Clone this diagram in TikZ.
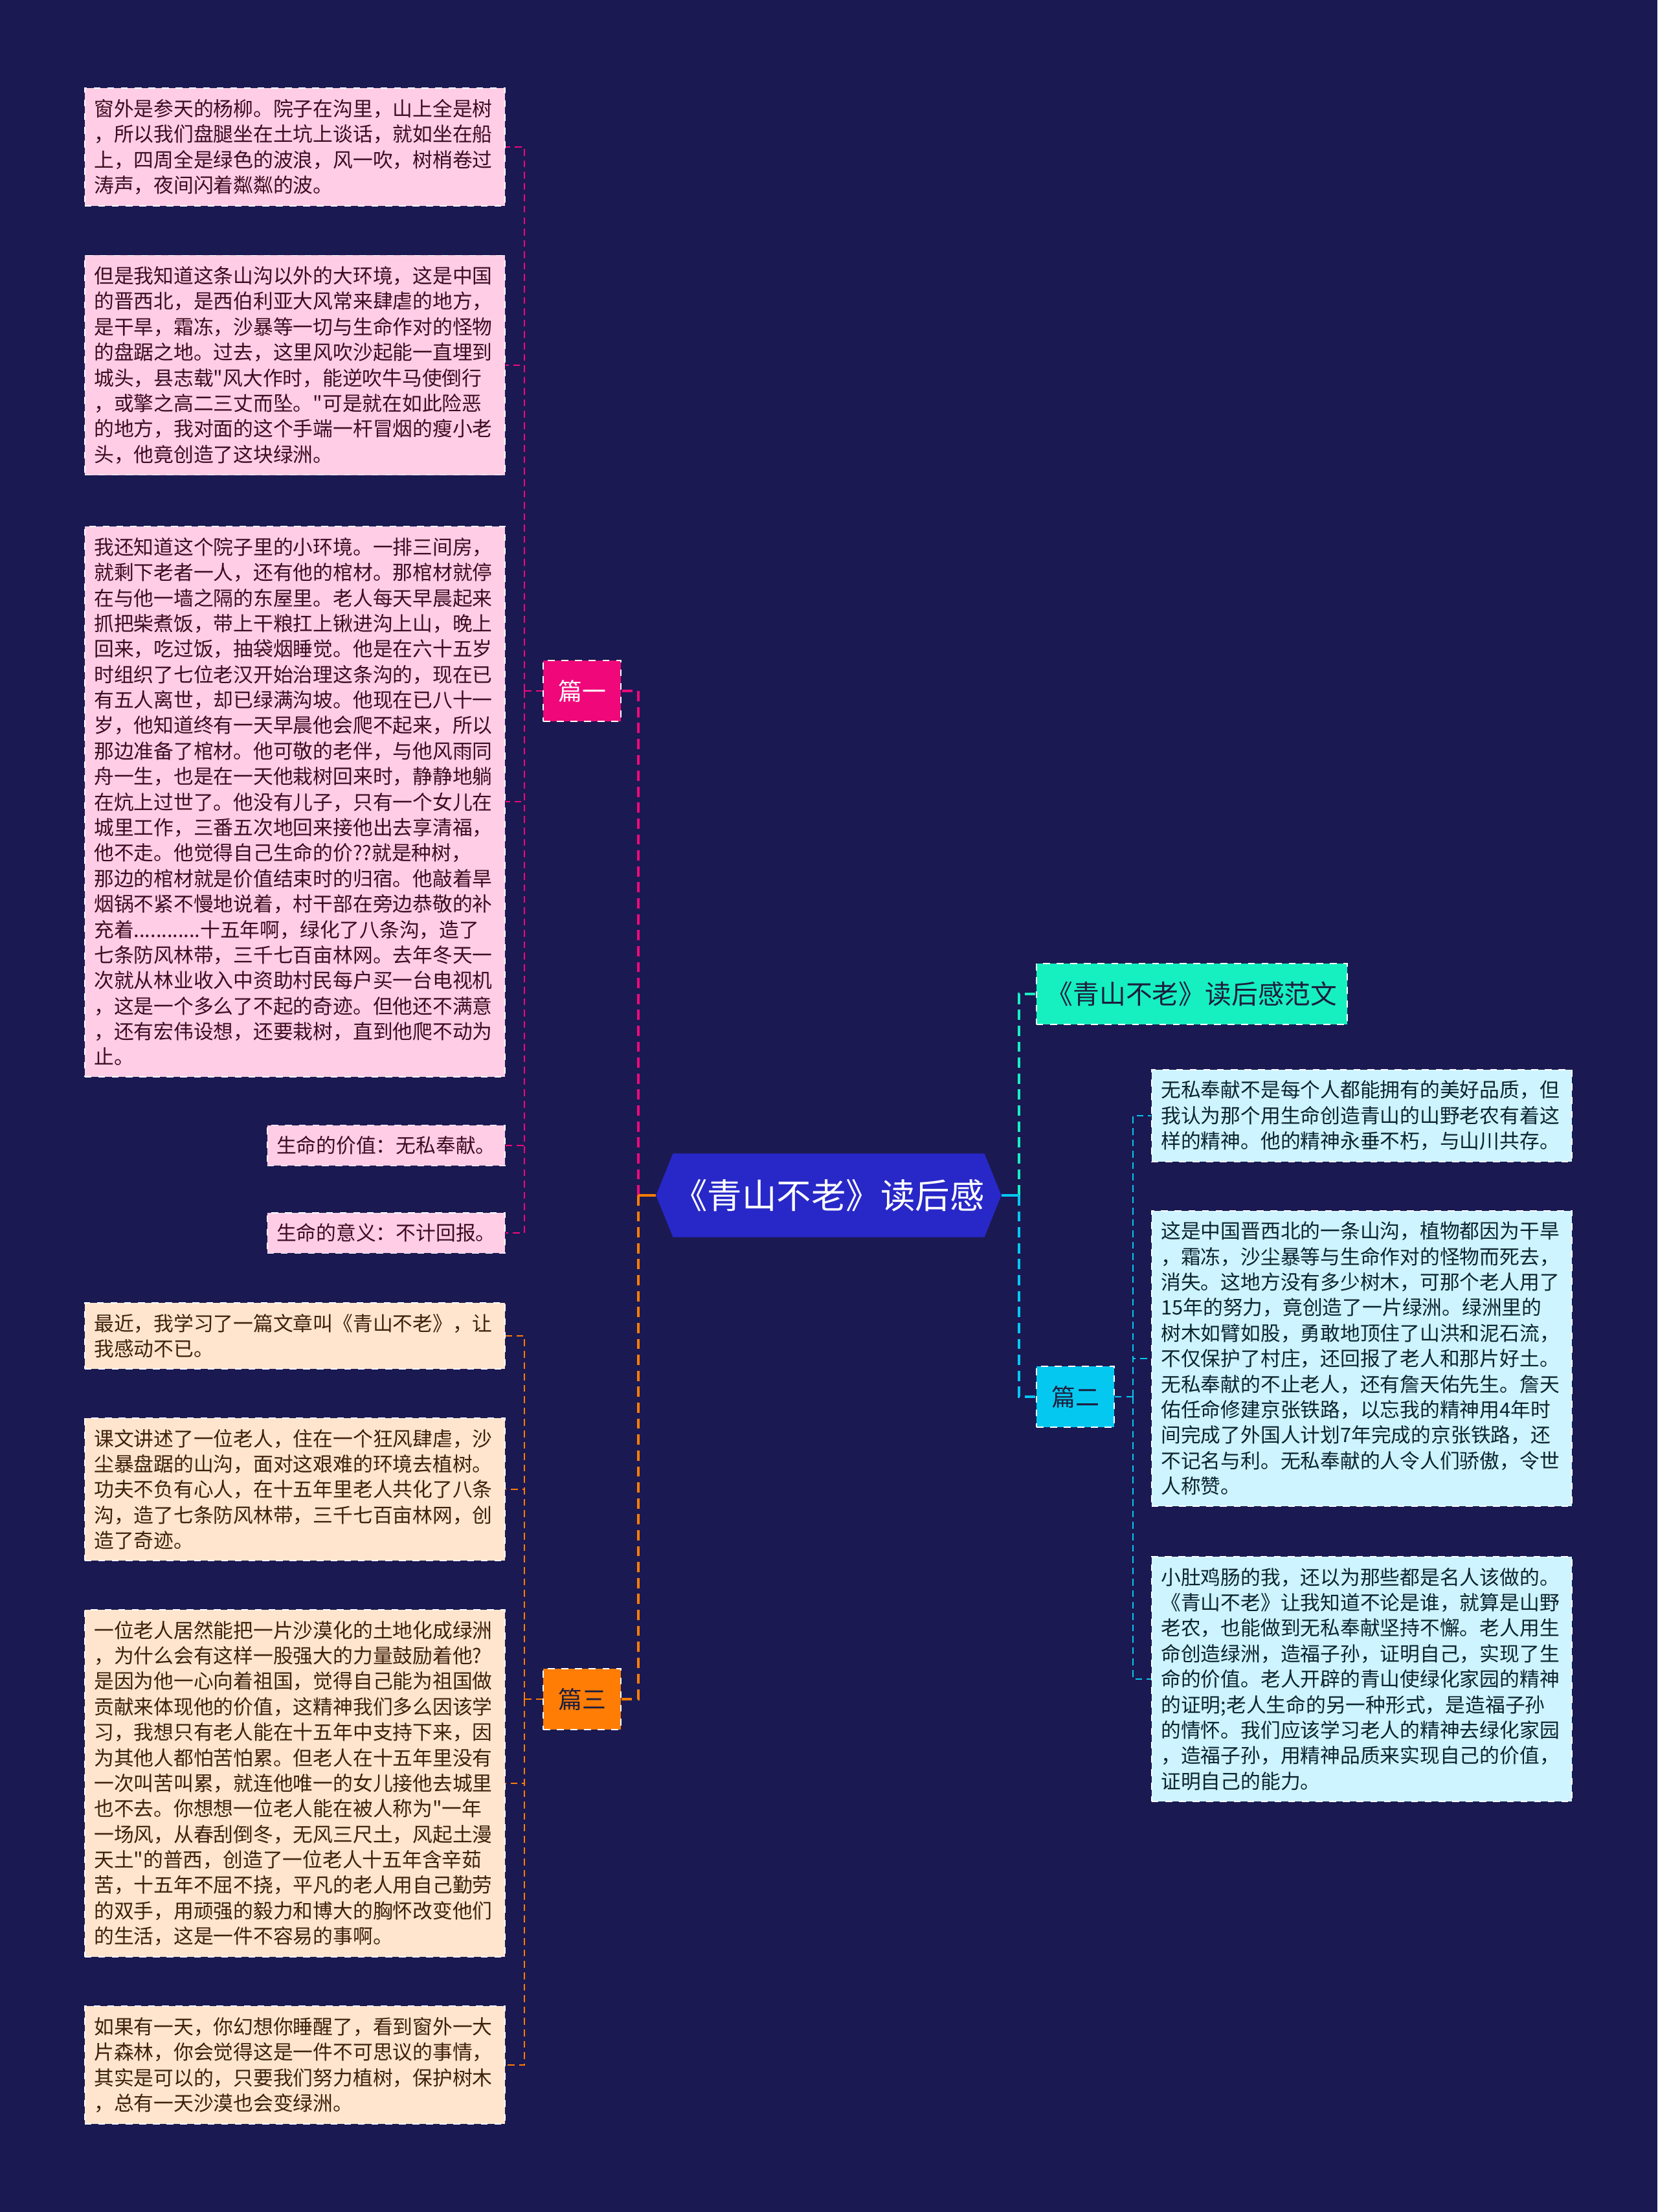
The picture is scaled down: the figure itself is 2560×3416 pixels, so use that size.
\documentclass[tikz,border=0pt]{standalone}
\usepackage{fontspec}
\newfontfamily\cjk{Noto Sans CJK SC}
\usetikzlibrary{shapes.symbols}

\definecolor{bgnavy}{RGB}{27,25,82}
\definecolor{rootblue}{RGB}{40,40,200}
\definecolor{pinkc}{RGB}{240,8,122}
\definecolor{orangec}{RGB}{255,125,5}
\definecolor{tealc}{RGB}{22,240,192}
\definecolor{cyanc}{RGB}{5,200,240}
\definecolor{pinkbox}{RGB}{255,205,230}
\definecolor{peachbox}{RGB}{255,229,205}
\definecolor{icebox}{RGB}{205,244,255}
\definecolor{pinkink}{RGB}{60,12,32}
\definecolor{peachink}{RGB}{62,32,12}
\definecolor{iceink}{RGB}{12,36,46}
\definecolor{topicink}{RGB}{28,30,62}

\begin{document}
\begin{tikzpicture}[
    x=0.01cm, y=-0.01cm,
    root/.style={signal, signal to=west and east, signal pointer angle=136, fill=rootblue, text=white, font=\cjk\fontsize{15.2}{18}\selectfont, minimum width=5.12cm, minimum height=1.29cm, inner sep=0pt},
    topic/.style={rectangle, draw=white!70, dashed, line width=0.5pt, minimum width=1.2cm, minimum height=0.94cm, inner xsep=0.2cm, font=\cjk\fontsize{10.5}{12}\selectfont},
    leaf/.style={rectangle, draw=white!75, dashed, line width=0.5pt, align=left, inner xsep=0.145cm, inner ysep=0.17cm, font=\cjk\fontsize{8.75}{11.2}\selectfont},
    wide/.style={text width=6.2cm},
    link/.style={line width=1.1pt, dash pattern=on 4.5pt off 2.5pt},
    twig/.style={line width=0.7pt, dash pattern=on 3pt off 2pt},
    stub/.style={line width=1.2pt}
  ]
    % Background
    \fill[bgnavy] (0,0) rectangle (2560,3416);
    \useasboundingbox (0,0) rectangle (2560,3416);

    % Root and topics
    \node[root] (root) at (1280,1846) {《青山不老》读后感};
    \node[topic, fill=pinkc, text=white] (pian1) at (899,1067) {篇一};
    \node[topic, fill=orangec, text=topicink] (pian3) at (899,2624) {篇三};
    \node[topic, fill=tealc, text=topicink, minimum width=4.8cm, inner xsep=0.04cm, font=\cjk\fontsize{11.6}{14}\selectfont] (fanwen) at (1841,1535) {《青山不老》读后感范文};
    \node[topic, fill=cyanc, text=topicink] (pian2) at (1661,2157) {篇二};

    % Junctions
    \coordinate (lj) at (986,1846);
    \coordinate (rj) at (1574,1846);
    \coordinate (aj) at (810,1067);
    \coordinate (cj) at (810,2624);
    \coordinate (bj) at (1750,2157);

    % Leaves of 篇一
    \node[leaf, wide, fill=pinkbox, text=pinkink, anchor=east] (a1) at (781,227) {窗外是参天的杨柳。院子在沟里，山上全是树\\，所以我们盘腿坐在土坑上谈话，就如坐在船\\上，四周全是绿色的波浪，风一吹，树梢卷过\\涛声，夜间闪着粼粼的波。};
    \node[leaf, wide, fill=pinkbox, text=pinkink, anchor=east] (a2) at (781,564) {但是我知道这条山沟以外的大环境，这是中国\\的晋西北，是西伯利亚大风常来肆虐的地方，\\是干旱，霜冻，沙暴等一切与生命作对的怪物\\的盘踞之地。过去，这里风吹沙起能一直埋到\\城头，县志载"风大作时，能逆吹牛马使倒行\\，或擎之高二三丈而坠。"可是就在如此险恶\\的地方，我对面的这个手端一杆冒烟的瘦小老\\头，他竟创造了这块绿洲。};
    \node[leaf, wide, fill=pinkbox, text=pinkink, anchor=east] (a3) at (781,1238) {我还知道这个院子里的小环境。一排三间房，\\就剩下老者一人，还有他的棺材。那棺材就停\\在与他一墙之隔的东屋里。老人每天早晨起来\\抓把柴煮饭，带上干粮扛上锹进沟上山，晚上\\回来，吃过饭，抽袋烟睡觉。他是在六十五岁\\时组织了七位老汉开始治理这条沟的，现在已\\有五人离世，却已绿满沟坡。他现在已八十一\\岁，他知道终有一天早晨他会爬不起来，所以\\那边准备了棺材。他可敬的老伴，与他风雨同\\舟一生，也是在一天他栽树回来时，静静地躺\\在炕上过世了。他没有儿子，只有一个女儿在\\城里工作，三番五次地回来接他出去享清福，\\他不走。他觉得自己生命的价??就是种树，\\那边的棺材就是价值结束时的归宿。他敲着旱\\烟锅不紧不慢地说着，村干部在旁边恭敬的补\\充着............十五年啊，绿化了八条沟，造了\\七条防风林带，三千七百亩林网。去年冬天一\\次就从林业收入中资助村民每户买一台电视机\\，这是一个多么了不起的奇迹。但他还不满意\\，还有宏伟设想，还要栽树，直到他爬不动为\\止。};
    \node[leaf, fill=pinkbox, text=pinkink, anchor=east] (a4) at (781,1769) {生命的价值：无私奉献。};
    \node[leaf, fill=pinkbox, text=pinkink, anchor=east] (a5) at (781,1904) {生命的意义：不计回报。};

    % Leaves of 篇三
    \node[leaf, wide, fill=peachbox, text=peachink, anchor=east] (c1) at (781,2063) {最近，我学习了一篇文章叫《青山不老》，让\\我感动不已。};
    \node[leaf, wide, fill=peachbox, text=peachink, anchor=east] (c2) at (781,2300) {课文讲述了一位老人，住在一个狂风肆虐，沙\\尘暴盘踞的山沟，面对这艰难的环境去植树。\\功夫不负有心人，在十五年里老人共化了八条\\沟，造了七条防风林带，三千七百亩林网，创\\造了奇迹。};
    \node[leaf, wide, fill=peachbox, text=peachink, anchor=east] (c3) at (781,2754) {一位老人居然能把一片沙漠化的土地化成绿洲\\，为什么会有这样一股强大的力量鼓励着他?\\是因为他一心向着祖国，觉得自己能为祖国做\\贡献来体现他的价值，这精神我们多么因该学\\习，我想只有老人能在十五年中支持下来，因\\为其他人都怕苦怕累。但老人在十五年里没有\\一次叫苦叫累，就连他唯一的女儿接他去城里\\也不去。你想想一位老人能在被人称为"一年\\一场风，从春刮倒冬，无风三尺土，风起土漫\\天土"的普西，创造了一位老人十五年含辛茹\\苦，十五年不屈不挠，平凡的老人用自己勤劳\\的双手，用顽强的毅力和博大的胸怀改变他们\\的生活，这是一件不容易的事啊。};
    \node[leaf, wide, fill=peachbox, text=peachink, anchor=east] (c4) at (781,3189) {如果有一天，你幻想你睡醒了，看到窗外一大\\片森林，你会觉得这是一件不可思议的事情，\\其实是可以的，只要我们努力植树，保护树木\\，总有一天沙漠也会变绿洲。};

    % Leaves of 篇二
    \node[leaf, wide, fill=icebox, text=iceink, anchor=west] (b1) at (1778,1723) {无私奉献不是每个人都能拥有的美好品质，但\\我认为那个用生命创造青山的山野老农有着这\\样的精神。他的精神永垂不朽，与山川共存。};
    \node[leaf, wide, fill=icebox, text=iceink, anchor=west] (b2) at (1778,2098) {这是中国晋西北的一条山沟，植物都因为干旱\\，霜冻，沙尘暴等与生命作对的怪物而死去，\\消失。这地方没有多少树木，可那个老人用了\\15年的努力，竟创造了一片绿洲。绿洲里的\\树木如臂如股，勇敢地顶住了山洪和泥石流，\\不仅保护了村庄，还回报了老人和那片好土。\\无私奉献的不止老人，还有詹天佑先生。詹天\\佑任命修建京张铁路，以忘我的精神用4年时\\间完成了外国人计划7年完成的京张铁路，还\\不记名与利。无私奉献的人令人们骄傲，令世\\人称赞。};
    \node[leaf, wide, fill=icebox, text=iceink, anchor=west] (b3) at (1778,2593) {小肚鸡肠的我，还以为那些都是名人该做的。\\《青山不老》让我知道不论是谁，就算是山野\\老农，也能做到无私奉献坚持不懈。老人用生\\命创造绿洲，造福子孙，证明自己，实现了生\\命的价值。老人开辟的青山使绿化家园的精神\\的证明;老人生命的另一种形式，是造福子孙\\的情怀。我们应该学习老人的精神去绿化家园\\，造福子孙，用精神品质来实现自己的价值，\\证明自己的能力。};

    % Root links
    \draw[link, draw=pinkc] (lj) |- (pian1.east);
    \draw[link, draw=orangec] (lj) |- (pian3.east);
    \draw[stub, draw=orangec] (root.west) -- (lj);
    \draw[link, draw=tealc] (rj) |- (fanwen.west);
    \draw[link, draw=cyanc] (rj) |- (pian2.west);
    \draw[stub, draw=cyanc] (root.east) -- (rj);

    % Leaf links
    \draw[twig, draw=pinkc] (pian1.west) -- (aj);
    \foreach \n in {a1,a2,a3,a4,a5}
      \draw[twig, draw=pinkc] (aj) |- (\n.east);
    \draw[twig, draw=orangec] (pian3.west) -- (cj);
    \foreach \n in {c1,c2,c3,c4}
      \draw[twig, draw=orangec] (cj) |- (\n.east);
    \draw[twig, draw=cyanc] (pian2.east) -- (bj);
    \foreach \n in {b1,b2,b3}
      \draw[twig, draw=cyanc] (bj) |- (\n.west);
\end{tikzpicture}
\end{document}
